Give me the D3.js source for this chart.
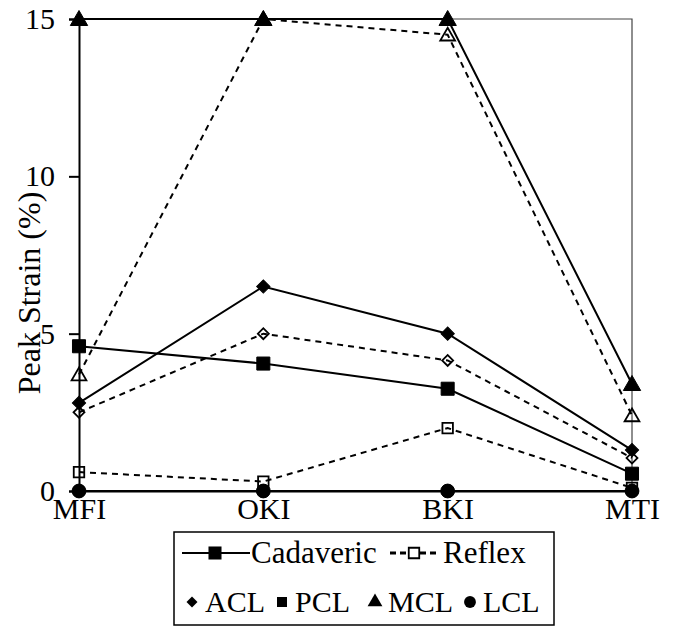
<!DOCTYPE html>
<html>
<head>
<meta charset="utf-8">
<script src="https://cdn.jsdelivr.net/npm/d3@7"></script>
<style>
  body { margin: 0; background: #fff; }
</style>
</head>
<body>
<div id="vis"></div>
<script>
// data
const sites = ['MFI', 'OKI', 'BKI', 'MTI'];
const ligaments = ['ACL', 'PCL', 'MCL', 'LCL'];
const yTicks = [0, 5, 10, 15];

// cadaveric peak strain (%) per ligament
const cadACL = [2.8, 6.5, 5.0, 1.3];
const cadPCL = [4.6, 4.05, 3.25, 0.55];
const cadMCL = [15, 15, 15, 3.4];
const cadLCL = [0, 0, 0, 0];

// reflex peak strain (%) per ligament
const refACL = [2.5, 5.0, 4.15, 1.05];
const refPCL = [0.6, 0.3, 2.0, 0.1];
const refMCL = [3.7, 15, 14.5, 2.4];
const refLCL = [0, 0, 0, 0];

const W = 673, H = 628;
const margin = { top: 19, left: 79, right: 41, bottom: 137 };
const FONT = '"Liberation Serif", "Times New Roman", serif';

const svg = d3.select('#vis').append('svg')
  .attr('width', W)
  .attr('height', H)
  .style('font-family', FONT);

const x = d3.scalePoint()
  .domain(sites)
  .range([margin.left, W - margin.right]);

const y = d3.scaleLinear()
  .domain([0, 15])
  .range([H - margin.bottom, margin.top]);

// plot frame (top + right)
svg.append('path')
  .attr('d', `M${margin.left},${y(15)}H${x('MTI')}V${y(0)}`)
  .attr('fill', 'none')
  .attr('stroke', '#444')
  .attr('stroke-width', 1.2);

// y axis
const yAxis = svg.append('g')
  .attr('transform', `translate(${margin.left},0)`)
  .call(d3.axisLeft(y).tickValues(yTicks).tickSize(10).tickPadding(14));
yAxis.select('.domain').attr('stroke', '#000').attr('stroke-width', 2);
yAxis.selectAll('.tick line').attr('stroke', '#000').attr('stroke-width', 2);
yAxis.selectAll('.tick text')
  .style('font-family', FONT)
  .style('font-size', '30px')
  .attr('fill', '#000');

// x axis
const xAxis = svg.append('g')
  .attr('transform', `translate(0,${y(0)})`)
  .call(d3.axisBottom(x).tickSize(0).tickPadding(7));
xAxis.select('.domain').attr('stroke', '#000').attr('stroke-width', 2);
xAxis.selectAll('.tick text')
  .style('font-family', FONT)
  .style('font-size', '30px')
  .attr('fill', '#000');

// y label
svg.append('text')
  .attr('transform', `translate(40,${(y(0) + y(15)) / 2 + 38}) rotate(-90)`)
  .attr('text-anchor', 'middle')
  .style('font-family', FONT)
  .style('font-size', '32px')
  .text('Peak Strain (%)');

// marker shapes (diamond = square turned 45deg)
const shapes = {
  ACL: d3.symbolSquare,
  PCL: d3.symbolSquare,
  MCL: d3.symbolTriangle,
  LCL: d3.symbolCircle
};
const turn = lig => (lig === 'ACL' ? ' rotate(45)' : '');
const plotSize = { ACL: 88, PCL: 170, MCL: 130, LCL: 150 };
const openSize = { ACL: 60, PCL: 110, MCL: 95, LCL: 110 };

const reflex = [refACL, refPCL, refMCL, refLCL];
const cadaveric = [cadACL, cadPCL, cadMCL, cadLCL];

const line = d3.line()
  .x((d, i) => x(sites[i]))
  .y(d => y(d));

function drawSeries(values, lig, solid) {
  const g = svg.append('g');
  g.append('path')
    .datum(values)
    .attr('d', line)
    .attr('fill', 'none')
    .attr('stroke', '#000')
    .attr('stroke-width', 2)
    .attr('stroke-dasharray', solid ? null : '6,5');
  g.selectAll('path.mark')
    .data(values)
    .join('path')
    .attr('class', 'mark')
    .attr('transform', (d, i) =>
      `translate(${x(sites[i])},${y(d) + (lig === 'MCL' ? 1.5 : 0)})` + turn(lig))
    .attr('d', d3.symbol().type(shapes[lig]).size(solid ? plotSize[lig] : openSize[lig]))
    .attr('fill', solid ? '#000' : 'none')
    .attr('stroke', '#000')
    .attr('stroke-width', solid ? 1 : 1.8);
}

// reflex first, cadaveric on top
ligaments.forEach((lig, k) => drawSeries(reflex[k], lig, false));
ligaments.forEach((lig, k) => drawSeries(cadaveric[k], lig, true));

// legend
const lg = svg.append('g');
lg.append('rect')
  .attr('x', 174).attr('y', 532)
  .attr('width', 380).attr('height', 93)
  .attr('fill', '#fff')
  .attr('stroke', '#000')
  .attr('stroke-width', 1.5);

const row1 = 563, row2 = 612;
// cadaveric entry
lg.append('line')
  .attr('x1', 182).attr('x2', 250).attr('y1', row1 - 10).attr('y2', row1 - 10)
  .attr('stroke', '#000').attr('stroke-width', 2);
lg.append('path')
  .attr('transform', `translate(215,${row1 - 10})`)
  .attr('d', d3.symbol().type(d3.symbolSquare).size(170))
  .attr('fill', '#000');
lg.append('text').attr('x', 251).attr('y', row1)
  .style('font-size', '31px').text('Cadaveric');

// reflex entry
lg.append('line')
  .attr('x1', 390).attr('x2', 438).attr('y1', row1 - 10).attr('y2', row1 - 10)
  .attr('stroke', '#000').attr('stroke-width', 3)
  .attr('stroke-dasharray', '6,4');
lg.append('path')
  .attr('transform', `translate(414,${row1 - 10})`)
  .attr('d', d3.symbol().type(d3.symbolSquare).size(110))
  .attr('fill', '#fff')
  .attr('stroke', '#000')
  .attr('stroke-width', 1.8);
lg.append('text').attr('x', 443).attr('y', row1)
  .style('font-size', '31px').text('Reflex');

// ligament entries
const legX = [192, 282, 375, 470];
const legSize = { ACL: 60, PCL: 100, MCL: 95, LCL: 110 };
ligaments.forEach((lig, k) => {
  lg.append('path')
    .attr('transform', `translate(${legX[k]},${row2 - 10})` + turn(lig))
    .attr('d', d3.symbol().type(shapes[lig]).size(legSize[lig]))
    .attr('fill', '#000');
  lg.append('text')
    .attr('x', legX[k] + 13)
    .attr('y', row2)
    .style('font-size', '30px')
    .text(lig);
});
</script>
</body>
</html>
